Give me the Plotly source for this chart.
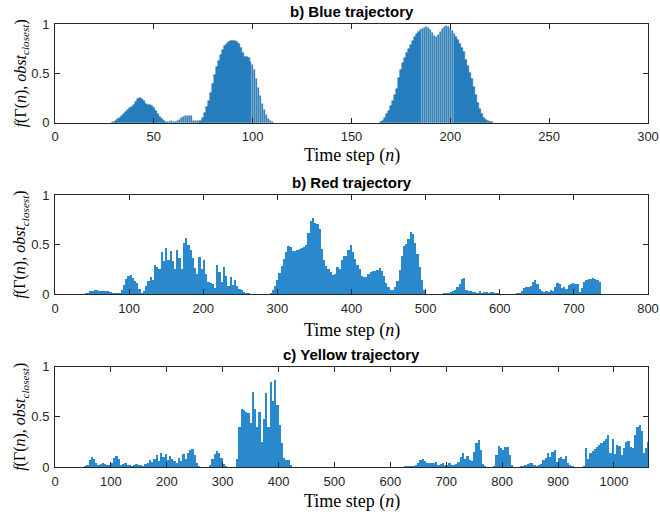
import numpy as np
import plotly.graph_objects as go

# ---------------- data ----------------
# Blue trajectory: one value per time step (two non-zero stretches)
blue_start_a = 29
blue_vals_a = [0.005, 0.01, 0.02, 0.035, 0.05, 0.07, 0.09, 0.11, 0.13, 0.15,
               0.16, 0.18, 0.21, 0.24, 0.25, 0.24, 0.22, 0.19, 0.18, 0.18,
               0.17, 0.15, 0.12, 0.09, 0.06, 0.04, 0.02, 0.01, 0.005, 0.005,
               0.02, 0.01, 0.005, 0.02, 0.03, 0.045, 0.06, 0.07, 0.07, 0.07,
               0.07, 0.02, 0.02, 0.02, 0.02, 0.02, 0.05, 0.1, 0.16, 0.22,
               0.30, 0.39, 0.48, 0.56, 0.63, 0.69, 0.74, 0.78, 0.80, 0.82,
               0.83, 0.83, 0.83, 0.82, 0.80, 0.76, 0.71, 0.67, 0.67, 0.66,
               0.62, 0.58, 0.53, 0.44, 0.35, 0.27, 0.19, 0.13, 0.08, 0.04,
               0.015, 0.005]
blue_start_b = 165
blue_vals_b = [0.005, 0.02, 0.05, 0.09, 0.12, 0.17, 0.22, 0.28, 0.34, 0.45,
               0.53, 0.60, 0.66, 0.71, 0.75, 0.79, 0.83, 0.87, 0.90, 0.92,
               0.94, 0.95, 0.96, 0.97, 0.96, 0.94, 0.91, 0.88, 0.87, 0.89,
               0.92, 0.95, 0.97, 0.98, 0.97, 0.95, 0.93, 0.90, 0.87, 0.84,
               0.80, 0.76, 0.72, 0.64, 0.57, 0.50, 0.44, 0.36, 0.28, 0.20,
               0.14, 0.09, 0.05, 0.03, 0.02, 0.01, 0.005]

# Red trajectory: one value per 3 time steps, starting at n = 42
red_start = 42
red_step = 3
red_vals = [0.005, 0.015, 0.03, 0.035, 0.04, 0.038, 0.035, 0.033, 0.03, 0.03,
            0.028, 0.025, 0.01, 0.008, 0.008, 0.01, 0.04, 0.09, 0.15, 0.185,
            0.19, 0.16, 0.135, 0.11, 0.05, 0.015, 0.03, 0.08, 0.13, 0.17,
            0.14, 0.29, 0.27, 0.25, 0.42, 0.33, 0.46, 0.34, 0.43, 0.33,
            0.25, 0.44, 0.36, 0.25, 0.52, 0.57, 0.5, 0.44, 0.36, 0.26,
            0.2, 0.37, 0.25, 0.34, 0.2, 0.12, 0.11, 0.1, 0.06, 0.29,
            0.22, 0.12, 0.27, 0.18, 0.08, 0.17, 0.09, 0.14, 0.08, 0.05,
            0.04, 0.025, 0.012, 0.005, 0, 0, 0, 0, 0, 0,
            0, 0, 0, 0.01, 0.04, 0.08, 0.14, 0.21, 0.28, 0.35,
            0.42, 0.48, 0.47, 0.43, 0.43, 0.44, 0.45, 0.46, 0.47, 0.5,
            0.62, 0.74, 0.77, 0.72, 0.71, 0.66, 0.45, 0.34, 0.28, 0.25,
            0.22, 0.19, 0.2, 0.27, 0.25, 0.34, 0.38, 0.38, 0.44, 0.5,
            0.42, 0.35, 0.29, 0.25, 0.18, 0.17, 0.17, 0.2, 0.22, 0.23,
            0.23, 0.24, 0.26, 0.23, 0.18, 0.11, 0.07, 0.04, 0.04, 0.07,
            0.13, 0.24, 0.38, 0.48, 0.51, 0.56, 0.63, 0.61, 0.52, 0.4,
            0.27, 0.14, 0.04, 0, 0, 0, 0, 0, 0, 0,
            0, 0.005, 0.01, 0.01, 0.02, 0.03, 0.04, 0.07, 0.1, 0.15,
            0.16, 0.04, 0.03, 0.03, 0.025, 0.02, 0.015, 0.03, 0.015, 0.02,
            0.025, 0.015, 0.02, 0.02, 0.015, 0.005, 0, 0, 0, 0,
            0, 0, 0, 0, 0.005, 0.01, 0.03, 0.06, 0.075, 0.075,
            0.08, 0.12, 0.14, 0.1, 0.05, 0.03, 0.02, 0.03, 0.02, 0.04,
            0.03, 0.07, 0.11, 0.1, 0.06, 0.07, 0.05, 0.09, 0.1, 0.11,
            0.1, 0.1, 0.02, 0.06, 0.12, 0.14, 0.15, 0.15, 0.16, 0.15,
            0.14, 0.12]

# Yellow trajectory: one value per 4 time steps, starting at n = 54
yel_start = 54
yel_step = 4
yel_vals = [0.005, 0.02, 0.07, 0.1, 0.08, 0.04, 0.02, 0.035, 0.04, 0.03,
            0.025, 0.02, 0.04, 0.09, 0.115, 0.08, 0.02, 0.03, 0.045, 0.02,
            0.02, 0.01, 0.02, 0.03, 0.02, 0.025, 0.015, 0.03, 0.045, 0.075,
            0.05, 0.08, 0.12, 0.06, 0.14, 0.1, 0.135, 0.07, 0.11, 0.08,
            0.06, 0.04, 0.09, 0.06, 0.135, 0.08, 0.14, 0.17, 0.18, 0.12,
            0.04, 0.005, 0, 0, 0, 0, 0.02, 0.08, 0.13, 0.16,
            0.14, 0.09, 0.03, 0.005, 0, 0, 0, 0, 0.08, 0.4,
            0.58, 0.57, 0.55, 0.54, 0.44, 0.75, 0.58, 0.4, 0.55, 0.25,
            0.48, 0.74, 0.4, 0.85, 0.66, 0.87, 0.62, 0.42, 0.24, 0.09,
            0.07, 0.07, 0.02, 0, 0, 0, 0, 0, 0, 0,
            0, 0, 0, 0, 0, 0, 0, 0, 0, 0,
            0, 0, 0, 0, 0, 0, 0, 0, 0, 0,
            0, 0, 0, 0, 0, 0, 0, 0, 0, 0,
            0, 0, 0, 0, 0, 0, 0, 0, 0, 0,
            0, 0, 0, 0.003, 0.005, 0.005, 0.008, 0.01, 0.02, 0.04,
            0.07, 0.08, 0.06, 0.045, 0.04, 0.04, 0.045, 0.055, 0.02, 0.03,
            0.04, 0.02, 0.025, 0.045, 0.02, 0.025, 0.03, 0.05, 0.1, 0.14,
            0.08, 0.11, 0.07, 0.06, 0.15, 0.24, 0.27, 0.17, 0.03, 0.005,
            0, 0, 0, 0.01, 0.12, 0.21, 0.19, 0.17, 0.2, 0.2,
            0.12, 0.02, 0, 0, 0, 0.005, 0.01, 0.02, 0.035, 0.045,
            0.045, 0.02, 0.01, 0.02, 0.03, 0.07, 0.09, 0.14, 0.1, 0.15,
            0.17, 0.05, 0.09, 0.1, 0.08, 0.115, 0.04, 0.02, 0.005, 0,
            0, 0, 0, 0.005, 0.19, 0.08, 0.14, 0.16, 0.18, 0.2,
            0.22, 0.24, 0.26, 0.28, 0.32, 0.14, 0.28, 0.13, 0.22, 0.215,
            0.12, 0.19, 0.25, 0.26, 0.2, 0.19, 0.32, 0.4, 0.42, 0.36,
            0.14, 0.19, 0.25]

titles = ["b) Blue trajectory", "b) Red trajectory", "c) Yellow trajectory"]
x_ranges = [[0, 300], [0, 800], [0, 1061]]
x_dticks = [50, 100, 100]
y_ticks = [0, 0.5, 1]
y_ticklabels = ["0", "0.5", "1"]

# ---------------- figure ----------------
BAR = "#2a88cc"
EDGE = "#0d5f9c"
AX = "#262626"

W, H = 660, 514
ML, MR, MT, MB = 55, 12, 24, 47

fig = go.Figure()

xb = np.concatenate([blue_start_a + np.arange(len(blue_vals_a)),
                     blue_start_b + np.arange(len(blue_vals_b))])
yb = np.concatenate([blue_vals_a, blue_vals_b])
fig.add_trace(go.Bar(x=xb, y=yb, width=0.8, marker=dict(color=BAR, line=dict(color=EDGE, width=0.5)),
                     xaxis="x", yaxis="y", showlegend=False))

xr = red_start + red_step * np.arange(len(red_vals))
fig.add_trace(go.Bar(x=xr, y=red_vals, width=red_step, marker=dict(color=BAR, line=dict(width=0)),
                     xaxis="x2", yaxis="y2", showlegend=False))

xy = yel_start + yel_step * np.arange(len(yel_vals))
fig.add_trace(go.Bar(x=xy, y=yel_vals, width=yel_step, marker=dict(color=BAR, line=dict(width=0)),
                     xaxis="x3", yaxis="y3", showlegend=False))

domains = [[0.7772, 1.0], [0.3905, 0.6140], [0.0, 0.2264]]
tick_font = dict(family="Liberation Sans, Arial, sans-serif", size=13, color=AX)

layout = dict(
    width=W, height=H,
    margin=dict(l=ML, r=MR, t=MT, b=MB, autoexpand=False),
    paper_bgcolor="white", plot_bgcolor="white",
    bargap=0, showlegend=False,
)
for i in range(3):
    sx = "" if i == 0 else str(i + 1)
    layout["xaxis" + sx] = dict(
        domain=[0, 1], anchor="y" + sx, range=x_ranges[i], dtick=x_dticks[i], tick0=0,
        showline=True, linecolor=AX, linewidth=1, mirror="ticks",
        ticks="inside", ticklen=5, tickcolor=AX, tickwidth=1, automargin=False,
        ticklabeloverflow="allow",
        showgrid=False, zeroline=False, tickfont=tick_font, ticklabelstandoff=2,
    )
    layout["yaxis" + sx] = dict(
        domain=domains[i], anchor="x" + sx, range=[0, 1],
        tickvals=y_ticks, ticktext=y_ticklabels, automargin=False,
        showline=True, linecolor=AX, linewidth=1, mirror="ticks",
        ticks="inside", ticklen=5, tickcolor=AX, tickwidth=1,
        showgrid=False, zeroline=False, tickfont=tick_font, ticklabelstandoff=2,
    )
fig.update_layout(**layout)

serif_x = dict(family="Liberation Serif, Times New Roman, serif", size=18, color="black")
serif_y = dict(family="Liberation Serif, Times New Roman, serif", size=16, color="black")
ylab = "<i>f</i>(Γ(<i>n</i>), <i>obst</i><sub><i>closest</i></sub>)"
xlab_y_px = [155, 330, 502]          # window pixels
H_PLOT = H - MT - MB
W_PLOT = W - ML - MR
BOTTOM_PX = H - MB
for i in range(3):
    top = domains[i][1]
    fig.add_annotation(text="<b>" + titles[i] + "</b>", xref="paper", yref="paper",
                       x=0.5, y=top, yanchor="bottom", xanchor="center", yshift=2, showarrow=False,
                       font=dict(family="Liberation Sans, Arial, sans-serif", size=15, color="black"))
    fig.add_annotation(text="Time step (<i>n</i>)", xref="paper", yref="paper",
                       x=0.5, y=(BOTTOM_PX - xlab_y_px[i]) / H_PLOT, yanchor="middle", xanchor="center",
                       showarrow=False, font=serif_x)
    fig.add_annotation(text=ylab, xref="paper", yref="paper", textangle=-90,
                       x=(21 - ML) / W_PLOT, y=(domains[i][0] + domains[i][1]) / 2,
                       xanchor="center", yanchor="middle", showarrow=False, font=serif_y)

# remove the page's default body margin so the figure sits at the window origin
fig.write_html("out.html", config={"displayModeBar": False},
               post_script="document.body.style.margin='0px';document.body.style.overflow='hidden';")
